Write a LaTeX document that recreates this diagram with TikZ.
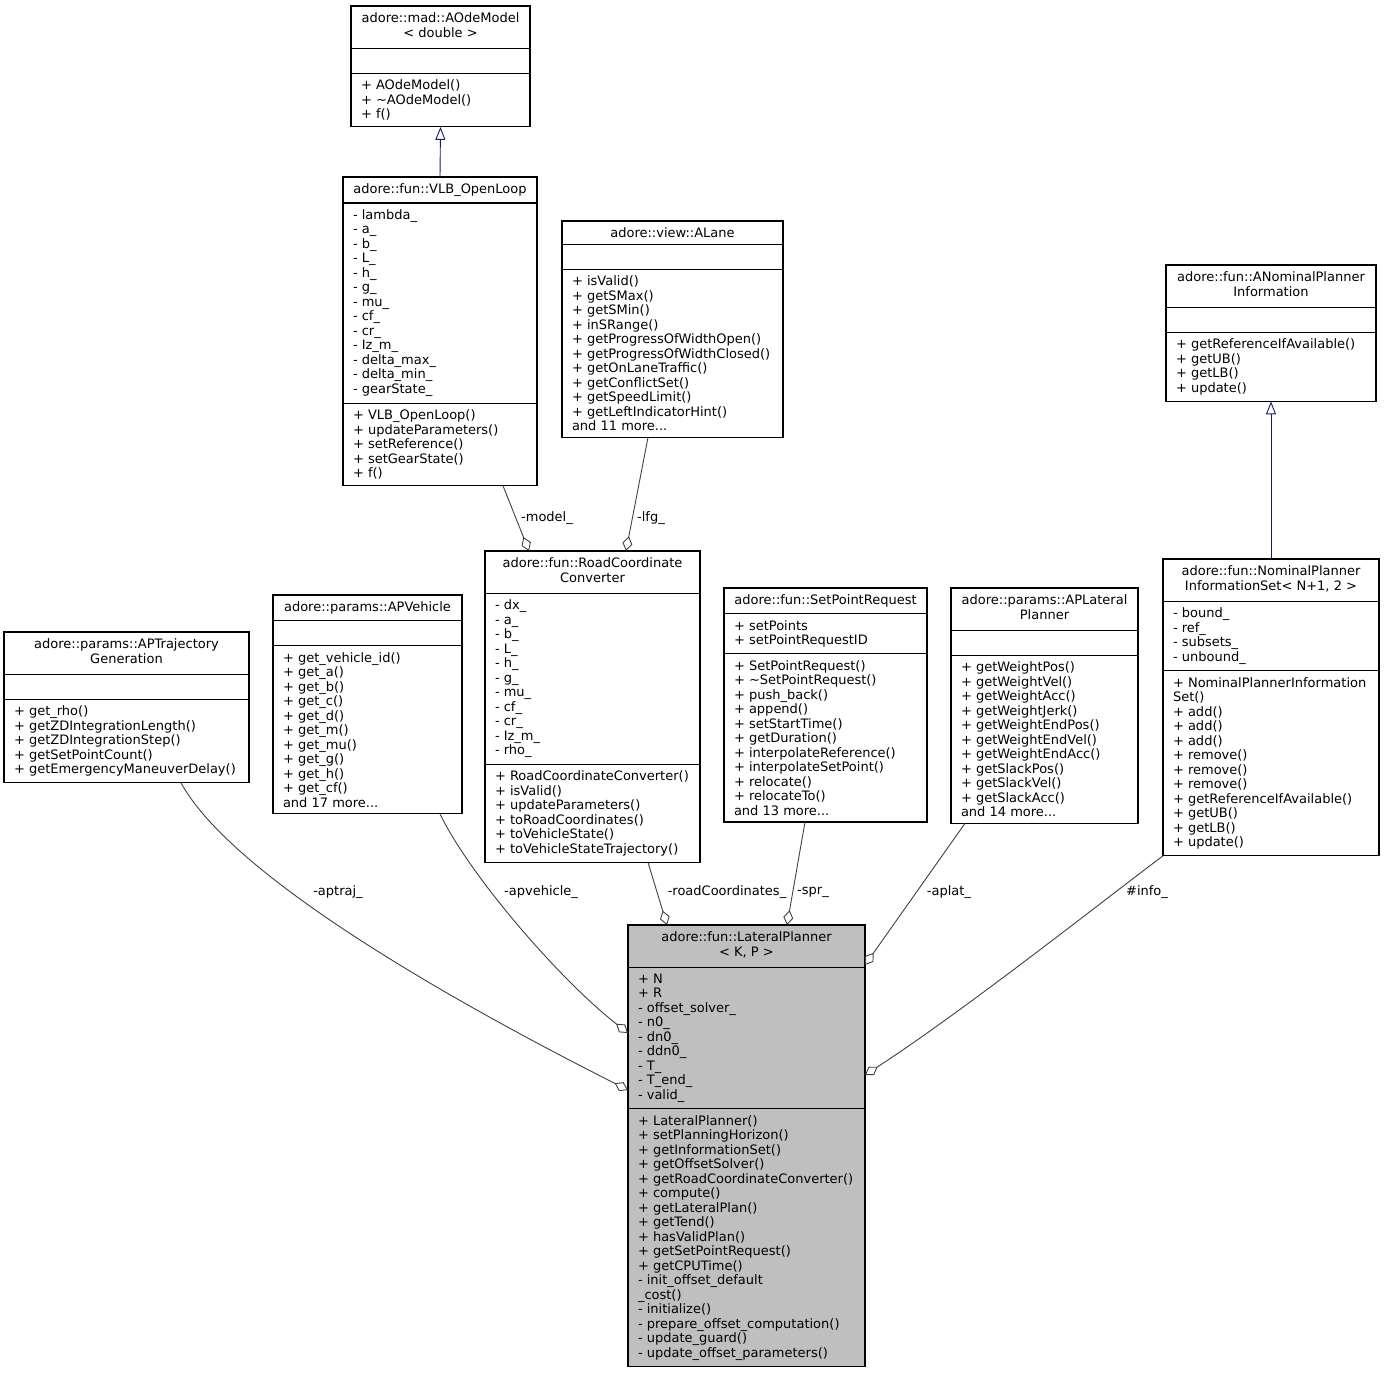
\documentclass[tikz,border=0pt]{standalone}
\usepackage{fontspec}
\setmainfont{DejaVu Sans}
\usetikzlibrary{arrows.meta,shapes.multipart}
\definecolor{edgegray}{HTML}{404040}
\definecolor{inhblue}{HTML}{191970}
\definecolor{focusgray}{HTML}{BFBFBF}
\newcommand{\classfont}{\fontsize{13}{14.5}\selectfont}
\newcommand{\twoline}[2]{\begin{tabular}{@{}c@{}}#1\\#2\end{tabular}}
\newcommand{\nomembers}{\rule{0pt}{12pt}}

\begin{document}
\begin{tikzpicture}[x=1pt, y=-1pt,
    umlclass/.style={draw=black, line width=1.1pt, fill=white,
        rectangle split, rectangle split parts=3,
        rectangle split part align={center,left,left},
        align=left, font=\classfont, inner xsep=10pt, inner ysep=6pt,
        outer sep=0pt, anchor=north west, minimum width=#1},
    aggr/.style={draw=edgegray, line width=0.9pt, -{Diamond[open, length=15pt, width=10pt]}},
    inherit/.style={draw=inhblue, line width=0.9pt, -{Triangle[open, length=13pt, width=10pt]}},
    edgelbl/.style={font=\classfont, inner sep=0pt}
]
\useasboundingbox (0,0) rectangle (1385,1375);

% === Top row: base classes ===
\node[umlclass=179pt] (aode) at (351,6) {\twoline{adore::mad::AOdeModel}{< double >}
    \nodepart{second}\nomembers
    \nodepart{third}+ AOdeModel()\\+ \textasciitilde AOdeModel()\\+ f()};

\node[umlclass=194pt] (vlb) at (343,177) {adore::fun::VLB\_OpenLoop
    \nodepart{second}- lambda\_\\- a\_\\- b\_\\- L\_\\- h\_\\- g\_\\- mu\_\\- cf\_\\- cr\_\\- Iz\_m\_\\- delta\_max\_\\- delta\_min\_\\- gearState\_
    \nodepart{third}+ VLB\_OpenLoop()\\+ updateParameters()\\+ setReference()\\+ setGearState()\\+ f()};

\node[umlclass=221pt] (alane) at (562,221) {adore::view::ALane
    \nodepart{second}\nomembers
    \nodepart{third}+ isValid()\\+ getSMax()\\+ getSMin()\\+ inSRange()\\+ getProgressOfWidthOpen()\\+ getProgressOfWidthClosed()\\+ getOnLaneTraffic()\\+ getConflictSet()\\+ getSpeedLimit()\\+ getLeftIndicatorHint()\\and 11 more...};

\node[umlclass=210pt] (anpi) at (1166,265) {\twoline{adore::fun::ANominalPlanner}{Information}
    \nodepart{second}\nomembers
    \nodepart{third}+ getReferenceIfAvailable()\\+ getUB()\\+ getLB()\\+ update()};

% === Middle row: members of the planner ===
\node[umlclass=245pt] (aptg) at (4,632) {\twoline{adore::params::APTrajectory}{Generation}
    \nodepart{second}\nomembers
    \nodepart{third}+ get\_rho()\\+ getZDIntegrationLength()\\+ getZDIntegrationStep()\\+ getSetPointCount()\\+ getEmergencyManeuverDelay()};

\node[umlclass=189pt] (apv) at (273,595) {adore::params::APVehicle
    \nodepart{second}\nomembers
    \nodepart{third}+ get\_vehicle\_id()\\+ get\_a()\\+ get\_b()\\+ get\_c()\\+ get\_d()\\+ get\_m()\\+ get\_mu()\\+ get\_g()\\+ get\_h()\\+ get\_cf()\\and 17 more...};

\node[umlclass=215pt] (rcc) at (485,551) {\twoline{adore::fun::RoadCoordinate}{Converter}
    \nodepart{second}- dx\_\\- a\_\\- b\_\\- L\_\\- h\_\\- g\_\\- mu\_\\- cf\_\\- cr\_\\- Iz\_m\_\\- rho\_
    \nodepart{third}+ RoadCoordinateConverter()\\+ isValid()\\+ updateParameters()\\+ toRoadCoordinates()\\+ toVehicleState()\\+ toVehicleStateTrajectory()};

\node[umlclass=203pt] (spr) at (724,588) {adore::fun::SetPointRequest
    \nodepart{second}+ setPoints\\+ setPointRequestID
    \nodepart{third}+ SetPointRequest()\\+ \textasciitilde SetPointRequest()\\+ push\_back()\\+ append()\\+ setStartTime()\\+ getDuration()\\+ interpolateReference()\\+ interpolateSetPoint()\\+ relocate()\\+ relocateTo()\\and 13 more...};

\node[umlclass=187pt] (aplat) at (951,588) {\twoline{adore::params::APLateral}{Planner}
    \nodepart{second}\nomembers
    \nodepart{third}+ getWeightPos()\\+ getWeightVel()\\+ getWeightAcc()\\+ getWeightJerk()\\+ getWeightEndPos()\\+ getWeightEndVel()\\+ getWeightEndAcc()\\+ getSlackPos()\\+ getSlackVel()\\+ getSlackAcc()\\and 14 more...};

\node[umlclass=216pt] (npis) at (1163,559) {\twoline{adore::fun::NominalPlanner}{InformationSet< N+1, 2 >}
    \nodepart{second}- bound\_\\- ref\_\\- subsets\_\\- unbound\_
    \nodepart{third}+ NominalPlannerInformation\\Set()\\+ add()\\+ add()\\+ add()\\+ remove()\\+ remove()\\+ remove()\\+ getReferenceIfAvailable()\\+ getUB()\\+ getLB()\\+ update()};

% === Bottom: the documented class ===
\node[umlclass=237pt, fill=focusgray] (lp) at (628,925) {\twoline{adore::fun::LateralPlanner}{< K, P >}
    \nodepart{second}+ N\\+ R\\- offset\_solver\_\\- n0\_\\- dn0\_\\- ddn0\_\\- T\_\\- T\_end\_\\- valid\_
    \nodepart{third}+ LateralPlanner()\\+ setPlanningHorizon()\\+ getInformationSet()\\+ getOffsetSolver()\\+ getRoadCoordinateConverter()\\+ compute()\\+ getLateralPlan()\\+ getTend()\\+ hasValidPlan()\\+ getSetPointRequest()\\+ getCPUTime()\\- init\_offset\_default\\\_cost()\\- initialize()\\- prepare\_offset\_computation()\\- update\_guard()\\- update\_offset\_parameters()};

% === Inheritance ===
\draw[inherit] (vlb.north) -- (aode.south);
\draw[inherit] (npis.north) -- (anpi.south);

% === Aggregation (diamond at the owner) ===
\draw[aggr] ([xshift=160pt]vlb.south west) -- ([xshift=44pt]rcc.north west);
\draw[aggr] ([xshift=86pt]alane.south west) -- ([xshift=141pt]rcc.north west);
\draw[aggr] ([xshift=163pt]rcc.south west) -- ([xshift=39pt]lp.north west);
\draw[aggr] ([xshift=81pt]spr.south west) -- ([xshift=159pt]lp.north west);
\draw[aggr] ([xshift=14pt]aplat.south west) -- ([yshift=-40pt]lp.north east);
\draw[aggr] (npis.south west) .. controls +(-60,45) and +(100,-65) .. ([yshift=-150pt]lp.north east);
\draw[aggr] ([xshift=167pt]apv.south west) .. controls +(30,62) and +(-68,-53) .. ([yshift=-108pt]lp.north west);
\draw[aggr] ([xshift=177pt]aptg.south west) .. controls +(49,89) and +(-198,-100) .. ([yshift=-165pt]lp.north west);

% === Member names ===
\node[edgelbl] (lbl-model) at (547,518) {-model\_};
\node[edgelbl] (lbl-lfg) at (651,518) {-lfg\_};
\node[edgelbl] (lbl-aptraj) at (338,892) {-aptraj\_};
\node[edgelbl] (lbl-apvehicle) at (541,892) {-apvehicle\_};
\node[edgelbl] (lbl-road) at (727,892) {-roadCoordinates\_};
\node[edgelbl] (lbl-spr) at (813,892) {-spr\_};
\node[edgelbl] (lbl-aplat) at (949,892) {-aplat\_};
\node[edgelbl] (lbl-info) at (1147,892) {\#info\_};

\end{tikzpicture}
\end{document}
